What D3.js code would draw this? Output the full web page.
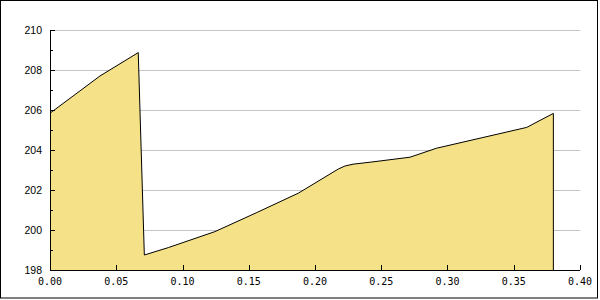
<!DOCTYPE html>
<html>
<head>
<meta charset="utf-8">
<script src="https://cdn.jsdelivr.net/npm/d3@7"></script>
<style>
  body { margin: 0; background: #fff; }
  svg { display: block; }
</style>
</head>
<body>
<div id="chart"></div>
<script>
// x positions and y values
let xs = [0, 0.0377, 0.0666, 0.0712, 0.0893, 0.1245, 0.156, 0.1874, 0.2176, 0.2226, 0.2287, 0.2453, 0.2717, 0.2918, 0.3598, 0.3799];
let ys = [205.84, 207.70, 208.87, 198.75, 199.12, 199.92, 200.87, 201.84, 203.05, 203.20, 203.29, 203.42, 203.64, 204.09, 205.13, 205.83];

let xTicks = [0, 0.05, 0.10, 0.15, 0.20, 0.25, 0.30, 0.35, 0.40];
let yTicks = [198, 200, 202, 204, 206, 208, 210];
let yMinorTicks = [199, 201, 203, 205, 207, 209];

let width = 600;
let height = 300;
let margin = ({top: 30, right: 20, bottom: 30, left: 50});

let data = xs.map((x, i) => ({x: x, y: ys[i]}));

const svg = d3.select("#chart").append("svg")
    .attr("width", width)
    .attr("height", height)
    .style("font-family", "'DejaVu Sans Mono', monospace")
    .style("font-size", "10px");

const x = d3.scaleLinear().domain([0, 0.4]).range([margin.left, width - margin.right]);
const y = d3.scaleLinear().domain([198, 210]).range([height - margin.bottom, margin.top]);

// outer frame
svg.append("rect")
    .attr("x", 0.5).attr("y", 0.5)
    .attr("width", 597).attr("height", 297.5)
    .attr("fill", "none")
    .attr("stroke", "#000");

// grid
svg.append("g")
    .attr("stroke", "#c4c4c4")
  .selectAll("line")
  .data(yTicks.filter(d => d > 198))
  .join("line")
    .attr("x1", x(0)).attr("x2", x(0.4))
    .attr("y1", d => Math.round(y(d)) + 0.5)
    .attr("y2", d => Math.round(y(d)) + 0.5);

// area
const area = d3.area()
    .x(d => x(d.x))
    .y0(y(198))
    .y1(d => y(d.y));

svg.append("path")
    .datum(data)
    .attr("fill", "#f5e187")
    .attr("d", area);

const line = d3.line()
    .x(d => x(d.x))
    .y(d => y(d.y));

// outline: top line plus the closing edge down to the axis
const last = data[data.length - 1];
svg.append("path")
    .datum(data.concat([{x: last.x, y: 198}]))
    .attr("fill", "none")
    .attr("stroke", "#000")
    .attr("stroke-width", 1)
    .attr("d", line);

// y axis, ticks inward
const yAxis = svg.append("g");
yAxis.append("line")
    .attr("x1", x(0) + 0.5).attr("x2", x(0) + 0.5)
    .attr("y1", y(210)).attr("y2", y(198))
    .attr("stroke", "#000");
yAxis.selectAll("line.major")
  .data(yTicks)
  .join("line")
    .attr("class", "major")
    .attr("x1", x(0)).attr("x2", x(0) + 5)
    .attr("y1", d => Math.round(y(d)) + 0.5)
    .attr("y2", d => Math.round(y(d)) + 0.5)
    .attr("stroke", "#000");
yAxis.selectAll("line.minor")
  .data(yMinorTicks)
  .join("line")
    .attr("class", "minor")
    .attr("x1", x(0)).attr("x2", x(0) + 3)
    .attr("y1", d => Math.round(y(d)) + 0.5)
    .attr("y2", d => Math.round(y(d)) + 0.5)
    .attr("stroke", "#000");
yAxis.selectAll("text")
  .data(yTicks)
  .join("text")
    .attr("x", x(0) - 8)
    .attr("y", d => y(d) + 4)
    .attr("text-anchor", "end")
    .style("font-family", "'Liberation Sans', Arial, sans-serif")
    .style("font-size", "10.5px")
    .text(d => d);

// x axis, ticks inward
const xAxis = svg.append("g");
xAxis.append("line")
    .attr("x1", x(0)).attr("x2", x(0.4))
    .attr("y1", y(198) + 0.5).attr("y2", y(198) + 0.5)
    .attr("stroke", "#000");
xAxis.selectAll("line.tick")
  .data(xTicks)
  .join("line")
    .attr("class", "tick")
    .attr("x1", d => Math.round(x(d)) + 0.5)
    .attr("x2", d => Math.round(x(d)) + 0.5)
    .attr("y1", y(198)).attr("y2", y(198) - 5)
    .attr("stroke", "#000");
xAxis.selectAll("text")
  .data(xTicks)
  .join("text")
    .attr("x", d => x(d))
    .attr("y", y(198) + 15)
    .attr("text-anchor", "middle")
    .text(d => d.toFixed(2));
</script>
</body>
</html>
